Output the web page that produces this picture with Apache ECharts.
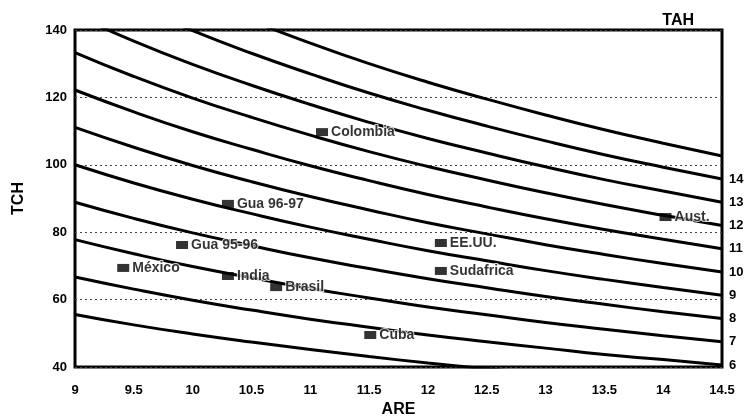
<!DOCTYPE html>
<html><head><meta charset="utf-8">
<script src="https://cdn.jsdelivr.net/npm/echarts@6/dist/echarts.min.js"></script>
<style>html,body{margin:0;padding:0;background:#fff}#c{width:745px;height:416px}</style>
</head><body><div id="c"></div>
<script>
var areX = [9, 9.5, 10, 10.5, 11, 11.5, 12, 12.5, 13, 13.5, 14, 14.5];
var tah5  = [55.6, 52.5, 49.8, 47.4, 45.2, 43.1, 41.2, 39.5, 37.9, 36.3, 35.0, 33.7];
var tah6  = [66.7, 63.1, 59.8, 56.9, 54.2, 51.8, 49.5, 47.5, 45.6, 43.7, 42.2, 40.6];
var tah7  = [77.8, 73.6, 69.8, 66.5, 63.3, 60.5, 57.8, 55.5, 53.2, 51.2, 49.3, 47.5];
var tah8  = [88.9, 84.1, 79.8, 76.0, 72.4, 69.2, 66.2, 63.5, 60.9, 58.6, 56.4, 54.4];
var tah9  = [100, 94.6, 89.8, 85.5, 81.5, 77.9, 74.5, 71.5, 68.6, 66.0, 63.6, 61.3];
var tah10 = [111.1, 105.2, 99.8, 95.0, 90.6, 86.6, 82.8, 79.5, 76.3, 73.4, 70.7, 68.2];
var tah11 = [122.2, 115.7, 109.8, 104.6, 99.7, 95.3, 91.2, 87.5, 84.0, 80.8, 77.9, 75.1];
var tah12 = [133.3, 126.2, 119.8, 114.1, 108.8, 103.9, 99.5, 95.5, 91.7, 88.2, 85.0, 82.0];
var tah13 = [144.4, 136.7, 129.8, 123.6, 117.9, 112.6, 107.8, 103.5, 99.4, 95.6, 92.2, 88.9];
var tah14 = [155.6, 147.3, 139.8, 133.1, 127.0, 121.3, 116.2, 111.5, 107.1, 103.0, 99.3, 95.8];
var tah15 = [166.7, 157.8, 149.8, 142.7, 136.1, 130.0, 124.5, 119.5, 114.8, 110.4, 106.4, 102.6];
var curveNames = ['5','6','7','8','9','10','11','12','13','14','15'];
var curveValues = [tah5, tah6, tah7, tah8, tah9, tah10, tah11, tah12, tah13, tah14, tah15];
var labeledCurves = ['6','7','8','9','10','11','12','13','14'];

var countries = ['Colombia', 'Gua 96-97', 'Gua 95-96', 'México', 'India', 'Brasil', 'Cuba', 'EE.UU.', 'Sudafrica', 'Aust.'];
var countryARE = [11.10, 10.30, 9.91, 9.41, 10.30, 10.71, 11.51, 12.11, 12.11, 14.02];
var countryTCH = [109.7, 88.4, 76.2, 69.4, 67.0, 63.7, 49.5, 76.8, 68.5, 84.5];

var FONT = 'Liberation Sans';
var series = curveNames.map(function (n, i) {
  var lab = labeledCurves.indexOf(n) >= 0;
  return {
    type: 'line', name: n, smooth: true, symbol: 'none', clip: true, silent: true,
    data: areX.map(function (x, j) { return [x, curveValues[i][j]]; }),
    lineStyle: { color: '#000', width: 3 },
    endLabel: { show: lab, formatter: n, color: '#000', fontFamily: FONT, fontWeight: 'bold', fontSize: 13, distance: 7 },
    z: 2
  };
});
series.push({
  type: 'scatter', name: 'pts', symbol: 'rect', symbolSize: [12, 8],
  itemStyle: { color: '#000' },
  data: countries.map(function (c, i) { return { name: c, value: [countryARE[i], countryTCH[i]] }; }),
  label: { show: true, position: 'right', distance: 3, formatter: '{b}', color: '#000', fontFamily: FONT, fontWeight: 'bold', fontSize: 14, textBorderColor: '#fff', textBorderWidth: 2 },
  z: 5
});

var chart = echarts.init(document.getElementById('c'));
chart.setOption({
  animation: false,
  backgroundColor: '#fff',
  title: { text: 'TAH', right: 46, top: 8, textStyle: { fontFamily: FONT, fontWeight: 'bold', fontSize: 16, color: '#000' } },
  grid: { left: 75, right: 23, top: 30, bottom: 49, containLabel: false, outerBoundsMode: 'none', show: true, borderColor: '#000', borderWidth: 3, backgroundColor: 'transparent' },
  xAxis: {
    type: 'value', min: 9, max: 14.5, interval: 0.5,
    name: 'ARE', nameLocation: 'middle', nameGap: 28,
    nameTextStyle: { fontFamily: FONT, fontWeight: 'bold', fontSize: 16, color: '#000' },
    axisLine: { show: false }, axisTick: { show: false }, splitLine: { show: false },
    axisLabel: { color: '#000', fontFamily: FONT, fontWeight: 'bold', fontSize: 13, margin: 17, showMinLabel: true, showMaxLabel: true }
  },
  yAxis: {
    type: 'value', min: 40, max: 140, interval: 20,
    name: 'TCH', nameLocation: 'middle', nameGap: 48,
    nameTextStyle: { fontFamily: FONT, fontWeight: 'bold', fontSize: 16, color: '#000' },
    axisLine: { show: false }, axisTick: { show: false },
    splitLine: { show: true, lineStyle: { color: '#444', type: [2, 3], width: 1 } },
    axisLabel: { color: '#000', fontFamily: FONT, fontWeight: 'bold', fontSize: 13, margin: 8 }
  },
  series: series
});
</script></body></html>
